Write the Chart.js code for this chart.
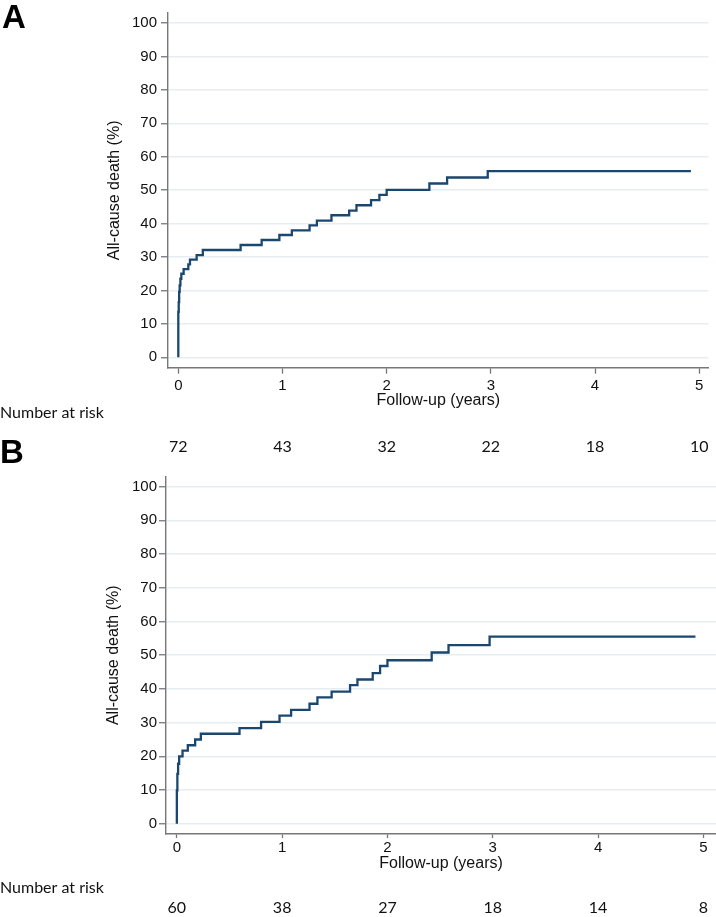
<!DOCTYPE html>
<html lang="en">
<head>
<meta charset="UTF-8">
<title>All-cause death</title>
<script src="https://cdn.jsdelivr.net/npm/chart.js"></script>
<style>
  body { margin: 0; background: #fff; width: 716px; height: 917px; position: relative; overflow: hidden; }
  canvas { position: absolute; left: 0; }
  #chartA { top: 0; }
  #chartB { top: 466px; }
  .panel { position: absolute; font: bold 33px 'Liberation Sans', Arial, sans-serif; line-height: 33px; color: #000; }
</style>
</head>
<body>
<canvas id="chartA" width="716" height="466"></canvas>
<canvas id="chartB" width="716" height="451"></canvas>
<div class="panel" style="left:2px; top:0">A</div>
<div class="panel" style="left:0; top:435px">B</div>
<script>
// axis ticks
const yTicks = [0, 10, 20, 30, 40, 50, 60, 70, 80, 90, 100];
const xTicks = [0, 1, 2, 3, 4, 5];
const riskTimes = [0, 1, 2, 3, 4, 5];

// panel A: cumulative all-cause death (%) by follow-up (years)
const timeA = [0, 0, 0.004, 0.008, 0.013, 0.020, 0.029, 0.051, 0.096, 0.112, 0.176, 0.235,
  0.598, 0.80, 0.97, 1.09, 1.26, 1.33, 1.47, 1.64, 1.71, 1.85, 1.93, 2.0, 2.41, 2.58, 2.97, 4.92];
const deathA = [0, 13.6, 16.5, 19.6, 21.5, 23.5, 25.0, 26.4, 27.8, 29.2, 30.6, 32.1,
  33.6, 35.1, 36.6, 38.0, 39.5, 40.9, 42.5, 43.9, 45.5, 47.0, 48.6, 50.1, 52.0, 53.8, 55.7, 55.7];
const riskA = [72, 43, 32, 22, 18, 10];

// panel B
const timeB = [0, 0, 0.005, 0.012, 0.022, 0.054, 0.104, 0.174, 0.228,
  0.595, 0.80, 0.975, 1.085, 1.26, 1.335, 1.47, 1.645, 1.715, 1.86, 1.93, 2.0, 2.42, 2.58, 2.97, 4.925];
const deathB = [0, 9.9, 14.8, 17.8, 20.0, 21.7, 23.3, 25.0, 26.7,
  28.4, 30.2, 32.1, 33.8, 35.6, 37.5, 39.2, 41.1, 42.8, 44.7, 46.8, 48.5, 50.8, 53.0, 55.5, 55.5];
const riskB = [60, 38, 27, 18, 14, 8];

Chart.defaults.font.family = "'Liberation Sans', Arial, sans-serif";
Chart.defaults.color = '#111';

// "Number at risk" row under the x axis
const riskTable = {
  id: 'riskTable',
  afterDraw(chart, args, opts) {
    const ctx = chart.ctx;
    const x = chart.scales.x;
    ctx.save();
    ctx.font = "16px Lato, 'Liberation Sans', sans-serif";
    ctx.fillStyle = '#111';
    ctx.textBaseline = 'alphabetic';
    ctx.textAlign = 'left';
    ctx.fillText('Number at risk', 0, opts.labelY);
    ctx.textAlign = 'center';
    opts.values.forEach((n, i) => {
      ctx.fillText(String(n), x.getPixelForValue(riskTimes[i]), opts.numY);
    });
    ctx.restore();
  }
};

function makeChart(id, times, deaths, risk, box) {
  const points = times.map((t, i) => ({ x: t, y: deaths[i] }));
  return new Chart(document.getElementById(id), {
    type: 'line',
    data: {
      datasets: [{
        data: points,
        stepped: true,
        borderColor: '#1a476f',
        borderWidth: 2.3,
        pointRadius: 0,
        fill: false
      }]
    },
    options: {
      responsive: false,
      animation: false,
      layout: { padding: { top: box.padTop, right: box.padRight, left: 0, bottom: 0 } },
      plugins: {
        legend: { display: false },
        tooltip: { enabled: false },
        riskTable: { values: risk, labelY: box.labelY, numY: box.numY }
      },
      scales: {
        x: {
          type: 'linear',
          min: box.xMin,
          max: box.xMax,
          afterBuildTicks: s => { s.ticks = xTicks.map(v => ({ value: v })); },
          afterFit: s => { s.height = box.xHeight; },
          ticks: { autoSkip: false, maxRotation: 0, padding: box.xTickPad, font: { size: 15 }, color: '#111' },
          grid: { drawOnChartArea: false, tickLength: box.xTickLen, tickColor: '#777', tickWidth: 1.3 },
          border: { color: '#777', width: 1.4 },
          title: { display: true, text: 'Follow-up (years)', font: { size: 16 }, color: '#111',
                   padding: { top: 0, bottom: box.xTitlePad } }
        },
        y: {
          min: box.yMin,
          max: box.yMax,
          afterBuildTicks: s => { s.ticks = yTicks.map(v => ({ value: v })); },
          afterFit: s => { s.width = box.yWidth; },
          ticks: { autoSkip: false, padding: box.yTickPad, font: { size: 15 }, color: '#111' },
          grid: { color: '#e6eef1', lineWidth: 1.5, tickLength: 7, tickColor: '#777', tickWidth: 1.3 },
          border: { color: '#777', width: 1.4 },
          title: { display: true, text: 'All-cause death (%)', font: { size: 16 }, color: '#111',
                   padding: { top: box.yTitlePad, bottom: 0 } }
        }
      }
    },
    plugins: [riskTable]
  });
}

makeChart('chartA', timeA, deathA, riskA, {
  xMin: -0.099, xMax: 5.09, yMin: -3.1, yMax: 103,
  padTop: 11.7, padRight: 7.4, yWidth: 168, xHeight: 98.3,
  xTickLen: 6, xTickPad: 3, xTitlePad: 55.4, yTickPad: 4, yTitlePad: 105.4,
  labelY: 418, numY: 451.7
});

makeChart('chartB', timeB, deathB, riskB, {
  xMin: -0.103, xMax: 5.12, yMin: -2.88, yMax: 102.85,
  padTop: 8, padRight: 0, yWidth: 166, xHeight: 83.5,
  xTickLen: 4.5, xTickPad: 1, xTitlePad: 43.4, yTickPad: 2, yTitlePad: 104.2,
  labelY: 427, numY: 447.3
});
</script>
</body>
</html>
